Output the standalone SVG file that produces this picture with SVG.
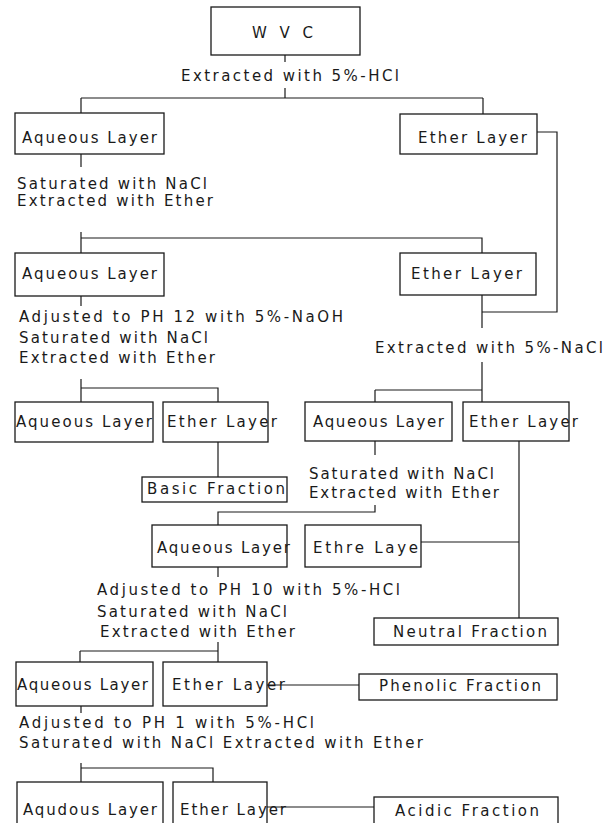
<svg xmlns="http://www.w3.org/2000/svg" width="616" height="823" viewBox="0 0 616 823">
<style>
.bx{fill:#fff;stroke:#1a1a1a;stroke-width:1.3}
.t{font-family:"DejaVu Sans","Liberation Sans",Arial,sans-serif;font-size:15px;fill:#1a1a1a}
.c{fill:none;stroke:#1a1a1a;stroke-width:1.2}
</style>
<rect width="616" height="823" fill="#fff"/>
<g id="connectors" class="c">
<path d="M285 55V62M285 88V98M81 98H483M81 98V113M483 98V114"/>
<path d="M81 154V167"/>
<path d="M81 232V253M81 238H482V253"/>
<path d="M537 132H557V312H482M482 295V328"/>
<path d="M81 296V306"/>
<path d="M81 379V402M81 388H218V402"/>
<path d="M218 442V477"/>
<path d="M482 362V402M375 390H482M375 390V402"/>
<path d="M375 441V455"/>
<path d="M375 505V512H218V525"/>
<path d="M519 441V618M421 542H519"/>
<path d="M218 567V577"/>
<path d="M218 642V662M80 651H218M80 651V662"/>
<path d="M267 685H359"/>
<path d="M81 706V713"/>
<path d="M81 763V782M81 768H213V782"/>
<path d="M267 807H374"/>
</g>
<g id="wvc"><rect class="bx" x="211" y="7" width="149" height="48"/><text class="t" x="252" y="38" textLength="61" lengthAdjust="spacing">W V C</text></g>
<text class="t" x="181" y="81" textLength="218" lengthAdjust="spacing">Extracted with 5%-HCl</text>
<g id="aq1"><rect class="bx" x="15" y="113" width="149" height="41"/><text class="t" x="22" y="143" textLength="135" lengthAdjust="spacing">Aqueous Layer</text></g>
<g id="et1"><rect class="bx" x="400" y="114" width="137" height="40"/><text class="t" x="418" y="143" textLength="109" lengthAdjust="spacing">Ether Layer</text></g>
<text class="t" x="17" y="189" textLength="190" lengthAdjust="spacing">Saturated with NaCl</text>
<text class="t" x="17" y="206" textLength="196" lengthAdjust="spacing">Extracted with Ether</text>
<g id="aq2"><rect class="bx" x="15" y="253" width="149" height="43"/><text class="t" x="22" y="279" textLength="135" lengthAdjust="spacing">Aqueous Layer</text></g>
<g id="et2"><rect class="bx" x="400" y="253" width="136" height="42"/><text class="t" x="411" y="279" textLength="111" lengthAdjust="spacing">Ether Layer</text></g>
<text class="t" x="19" y="322" textLength="324" lengthAdjust="spacing">Adjusted to PH 12 with 5%-NaOH</text>
<text class="t" x="19" y="343" textLength="189" lengthAdjust="spacing">Saturated with NaCl</text>
<text class="t" x="19" y="363" textLength="196" lengthAdjust="spacing">Extracted with Ether</text>
<text class="t" x="375" y="353" textLength="228" lengthAdjust="spacing">Extracted with 5%-NaCl</text>
<g id="aq3"><rect class="bx" x="15" y="402" width="138" height="40"/><text class="t" x="16" y="427" textLength="136" lengthAdjust="spacing">Aqueous Layer</text></g>
<g id="et3"><rect class="bx" x="163" y="402" width="105" height="40"/><text class="t" x="167" y="427" textLength="110" lengthAdjust="spacing">Ether Layer</text></g>
<g id="aq3b"><rect class="bx" x="305" y="402" width="147" height="39"/><text class="t" x="313" y="427" textLength="131" lengthAdjust="spacing">Aqueous Layer</text></g>
<g id="et3b"><rect class="bx" x="463" y="402" width="106" height="39"/><text class="t" x="469" y="427" textLength="109" lengthAdjust="spacing">Ether Layer</text></g>
<g id="basic"><rect class="bx" x="142" y="477" width="145" height="25"/><text class="t" x="147" y="494" textLength="138" lengthAdjust="spacing">Basic Fraction</text></g>
<text class="t" x="309" y="479" textLength="185" lengthAdjust="spacing">Saturated with NaCl</text>
<text class="t" x="309" y="498" textLength="190" lengthAdjust="spacing">Extracted with Ether</text>
<g id="aq4"><rect class="bx" x="152" y="525" width="135" height="42"/><text class="t" x="157" y="553" textLength="133" lengthAdjust="spacing">Aqueous Layer</text></g>
<g id="ethre"><rect class="bx" x="305" y="525" width="116" height="42"/><text class="t" x="313" y="553" textLength="105" lengthAdjust="spacing">Ethre Laye</text></g>
<text class="t" x="97" y="595" textLength="303" lengthAdjust="spacing">Adjusted to PH 10 with 5%-HCl</text>
<text class="t" x="97" y="617" textLength="190" lengthAdjust="spacing">Saturated with NaCl</text>
<text class="t" x="100" y="637" textLength="195" lengthAdjust="spacing">Extracted with Ether</text>
<g id="neutral"><rect class="bx" x="374" y="618" width="184" height="27"/><text class="t" x="393" y="637" textLength="154" lengthAdjust="spacing">Neutral Fraction</text></g>
<g id="aq5"><rect class="bx" x="16" y="662" width="137" height="44"/><text class="t" x="17" y="690" textLength="131" lengthAdjust="spacing">Aqueous Layer</text></g>
<g id="et5"><rect class="bx" x="163" y="662" width="104" height="44"/><text class="t" x="172" y="690" textLength="113" lengthAdjust="spacing">Ether Layer</text></g>
<g id="phenolic"><rect class="bx" x="359" y="674" width="198" height="26"/><text class="t" x="379" y="691" textLength="162" lengthAdjust="spacing">Phenolic Fraction</text></g>
<text class="t" x="19" y="728" textLength="295" lengthAdjust="spacing">Adjusted to PH 1 with 5%-HCl</text>
<text class="t" x="19" y="748" textLength="404" lengthAdjust="spacing">Saturated with NaCl  Extracted with Ether</text>
<g id="aq6"><rect class="bx" x="17" y="782" width="146" height="50"/><text class="t" x="23" y="815" textLength="134" lengthAdjust="spacing">Aqudous Layer</text></g>
<g id="et6"><rect class="bx" x="173" y="782" width="94" height="50"/><text class="t" x="180" y="815" textLength="106" lengthAdjust="spacing">Ether Layer</text></g>
<g id="acidic"><rect class="bx" x="374" y="797" width="184" height="35"/><text class="t" x="395" y="816" textLength="144" lengthAdjust="spacing">Acidic Fraction</text></g>
</svg>
